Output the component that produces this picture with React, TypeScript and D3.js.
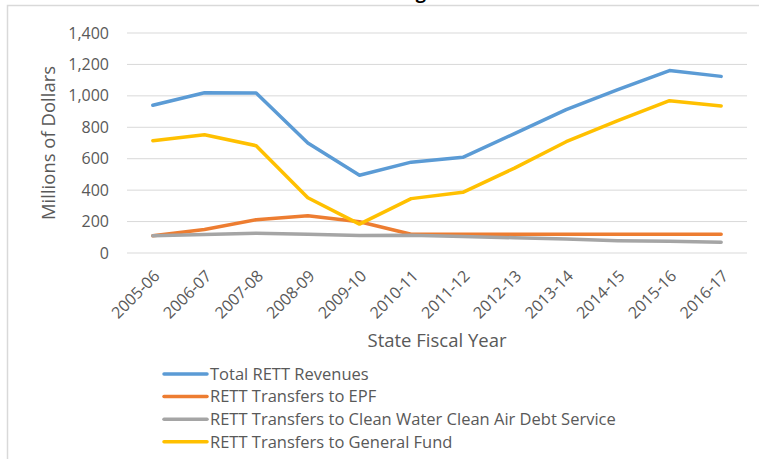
import React from 'react';
import * as d3 from 'd3';

const years = ['2005-06', '2006-07', '2007-08', '2008-09', '2009-10', '2010-11', '2011-12', '2012-13', '2013-14', '2014-15', '2015-16', '2016-17'];
const totalRevenues = [940, 1020, 1018, 700, 495, 578, 609, 760, 912, 1040, 1161, 1124];
const toEpf = [110, 150, 212, 237, 199, 119, 119, 119, 119, 119, 119, 119];
const toCleanWater = [110, 118, 126, 119, 112, 113, 105, 97, 89, 78, 74, 68];
const toGeneralFund = [715, 752, 683, 352, 184, 346, 386, 540, 708, 842, 969, 936];
const yTicks = [0, 200, 400, 600, 800, 1000, 1200, 1400];

const series = [
  { name: 'Total RETT Revenues', values: totalRevenues, color: '#5B9BD5' },
  { name: 'RETT Transfers to EPF', values: toEpf, color: '#ED7D31' },
  { name: 'RETT Transfers to Clean Water Clean Air Debt Service', values: toCleanWater, color: '#A5A5A5' },
  { name: 'RETT Transfers to General Fund', values: toGeneralFund, color: '#FFC000' },
];

const App = () => {
  const width = 759, height = 459;
  const left = 127, right = 747, top = 33, bottom = 253;
  const font = '"Open Sans", sans-serif';
  const text = '#595959';

  const xScale = d3.scaleBand().domain(years).range([left, right]);
  const yScale = d3.scaleLinear().domain([0, 1400]).range([bottom, top]);
  const bw = xScale.bandwidth();
  const line = d3.line<number>()
    .x((d, i) => (xScale(years[i]) as number) + bw / 2)
    .y(d => yScale(d));

  return (
    <svg width={width} height={height} style={{ position: 'absolute', left: 0, top: 0 }} fontFamily={font}>
      <rect x={0} y={0} width={width} height={height} fill="#fff" />
      <path d={`M7.5,${height}V5.5H${width}`} fill="none" stroke="#D9D9D9" strokeWidth={1.5} />
      {/* title sits above the visible area, only its descender shows */}
      <text x={426} y={-1} textAnchor="end" fontSize={18} fontWeight="bold" fill="#000">RETT Revenues and Funding</text>

      {yTicks.map(t => (
        <g key={t}>
          <line x1={left} x2={right} y1={yScale(t)} y2={yScale(t)} stroke="#D9D9D9" strokeWidth={1} />
          <text x={109} y={yScale(t)} dy="0.35em" textAnchor="end" fontSize={16} fill={text}>{d3.format(',')(t)}</text>
        </g>
      ))}

      {years.map(y => {
        const cx = (xScale(y) as number) + bw / 2 + 4;
        return (
          <text key={y} transform={`translate(${cx}, ${bottom + 20}) rotate(-45)`} textAnchor="end" dy="0.35em" fontSize={16} fill={text}>{y}</text>
        );
      })}

      <text transform={`translate(55, ${(top + bottom) / 2}) rotate(-90)`} textAnchor="middle" fontSize={18.5} fill={text}>Millions of Dollars</text>
      <text x={(left + right) / 2} y={347} textAnchor="middle" fontSize={18.5} fill={text}>State Fiscal Year</text>

      {series.map(s => (
        <path key={s.name} d={line(s.values) as string} fill="none" stroke={s.color} strokeWidth={3.5} strokeLinejoin="round" strokeLinecap="round" />
      ))}

      {series.map((s, i) => {
        const ly = 374 + i * 22.6;
        return (
          <g key={s.name}>
            <line x1={164} x2={207} y1={ly} y2={ly} stroke={s.color} strokeWidth={3.5} strokeLinecap="round" />
            <text x={210} y={ly} dy="0.35em" fontSize={16.5} fill={text}>{s.name}</text>
          </g>
        );
      })}
    </svg>
  );
};

export default App;
